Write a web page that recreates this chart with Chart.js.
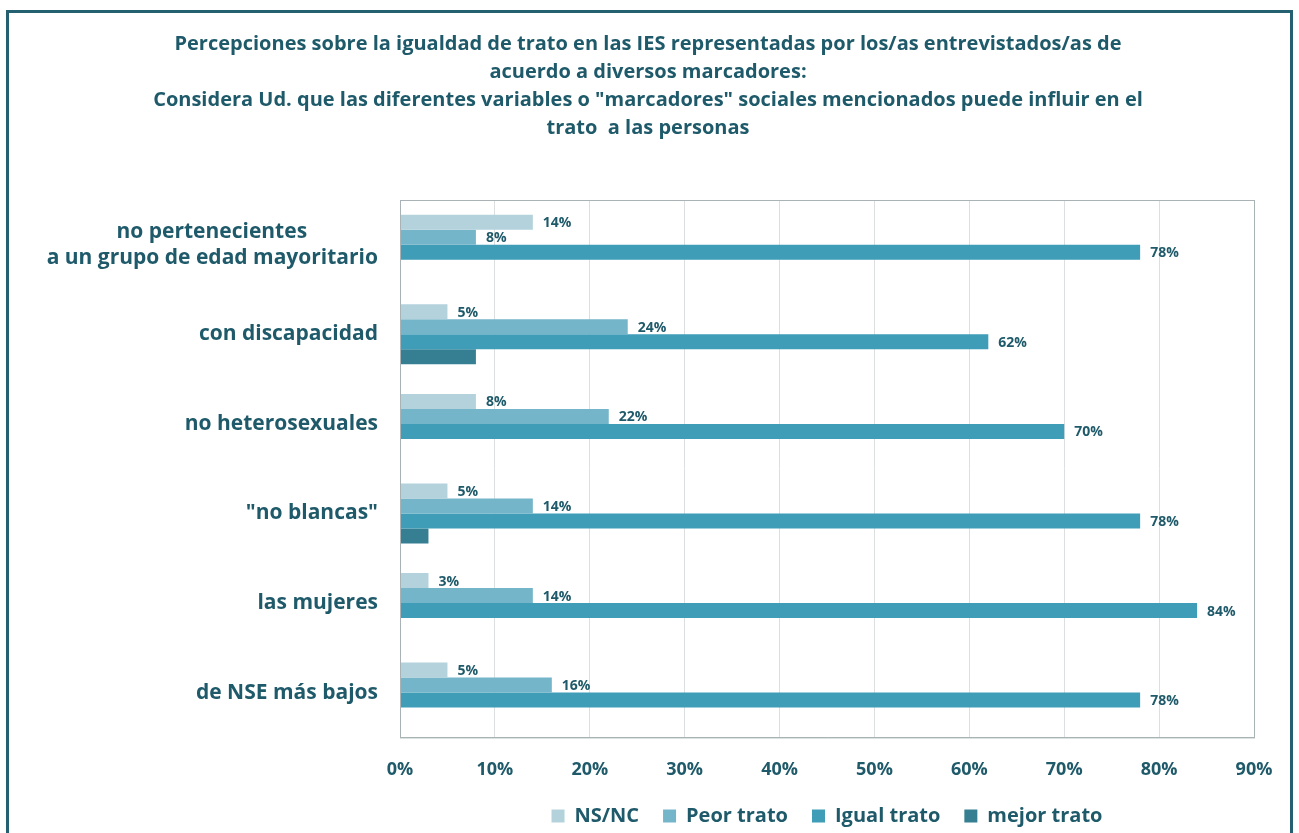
<!DOCTYPE html>
<html lang="es">
<head>
<meta charset="utf-8">
<script src="https://cdn.jsdelivr.net/npm/chart.js@4/dist/chart.umd.min.js"></script>
<style>
  html, body { margin: 0; padding: 0; background: #ffffff; }
  #wrap { position: relative; width: 1299px; height: 833px; overflow: hidden; }
  #frame {
    position: absolute; left: 6px; top: 10px; width: 1281px; height: 840px;
    border: 3px solid #24606f; box-sizing: content-box;
  }
  #chart { position: absolute; left: 0; top: 0; }
</style>
</head>
<body>
<div id="wrap">
  <div id="frame"></div>
  <canvas id="chart" width="1299" height="833"></canvas>
</div>
<script>
// --- Data ---
const categories = [
  ["no pertenecientes", "a un grupo de edad mayoritario"],
  "con discapacidad",
  "no heterosexuales",
  "\"no blancas\"",
  "las mujeres",
  "de NSE más bajos"
];

const nsnc = [14, 5, 8, 5, 3, 5];
const peorTrato = [8, 24, 22, 14, 14, 16];
const igualTrato = [78, 62, 70, 78, 84, 78];
const mejorTrato = [0, 8, 0, 3, 0, 0];

const xTicks = [0, 10, 20, 30, 40, 50, 60, 70, 80, 90];

const titleLines = [
  "Percepciones sobre la igualdad de trato en las IES representadas por los/as entrevistados/as de",
  "acuerdo a diversos marcadores:",
  "Considera Ud. que las diferentes variables o \"marcadores\" sociales mencionados puede influir en el",
  "trato  a las personas"
];

// --- Style ---
const TEXT = "#1f5a6a";
const FONT = "'Open Sans', Lato, sans-serif";
const NBSP = "\u00a0";
const CAT_FONT_SIZE = 21;

// multi-line category names: pad the shorter lines so the block reads centred
function centreLines(label, ctx) {
  if (!Array.isArray(label)) return label;
  const w = label.map((s) => ctx.measureText(s).width);
  const max = Math.max(...w);
  const sp = ctx.measureText(NBSP).width;
  return label.map((s, i) => s + NBSP.repeat(Math.round((max - w[i]) / 2 / sp)));
}

const measureCtx = document.createElement("canvas").getContext("2d");
measureCtx.font = "bold " + CAT_FONT_SIZE + "px " + FONT;

// value labels to the right of each bar (not for "mejor trato")
const barLabels = {
  id: "barLabels",
  afterDatasetsDraw(chart) {
    const ctx = chart.ctx;
    ctx.save();
    ctx.font = "bold 14px " + FONT;
    ctx.fillStyle = TEXT;
    ctx.textAlign = "left";
    ctx.textBaseline = "middle";
    chart.data.datasets.forEach((ds, i) => {
      if (!ds.showLabels) return;
      chart.getDatasetMeta(i).data.forEach((bar, j) => {
        ctx.fillText(ds.data[j] + "%", bar.x + 10, bar.y + 1);
      });
    });
    ctx.restore();
  }
};

// grey box round the plot area
const plotFrame = {
  id: "plotFrame",
  afterDraw(chart) {
    const a = chart.chartArea;
    const ctx = chart.ctx;
    ctx.save();
    ctx.strokeStyle = "#a9b3b6";
    ctx.lineWidth = 1;
    ctx.strokeRect(a.left + 0.5, a.top + 0.5, a.right - a.left, a.bottom - a.top);
    ctx.restore();
  }
};

new Chart(document.getElementById("chart"), {
  type: "bar",
  data: {
    labels: categories.map((c) => centreLines(c, measureCtx)),
    datasets: [
      { label: "NS/NC", data: nsnc, backgroundColor: "#b3d2dc", showLabels: true },
      { label: "Peor trato", data: peorTrato, backgroundColor: "#74b5ca", showLabels: true },
      { label: "Igual trato", data: igualTrato, backgroundColor: "#3f9db7", showLabels: true },
      { label: "mejor trato", data: mejorTrato, backgroundColor: "#367f93", showLabels: false }
    ]
  },
  options: {
    indexAxis: "y",
    responsive: false,
    animation: false,
    devicePixelRatio: 1,
    layout: { padding: { left: 42, right: 45, top: 0, bottom: -3 } },
    datasets: {
      bar: { barPercentage: 1, categoryPercentage: 0.67 }
    },
    scales: {
      x: {
        min: 0,
        max: 90,
        afterBuildTicks: (axis) => { axis.ticks = xTicks.map((v) => ({ value: v })); },
        afterFit: (axis) => { axis.height -= 21; },
        ticks: {
          callback: (v) => v + "%",
          color: TEXT,
          font: { family: FONT, size: 18, weight: "bold" },
          padding: 22
        },
        grid: { color: "#dcdfe0", drawTicks: false },
        border: { color: "#a9b3b6" }
      },
      y: {
        afterFit: (axis) => { axis.width = 358; },
        ticks: {
          color: TEXT,
          font: { family: FONT, size: CAT_FONT_SIZE, weight: "bold", lineHeight: 1.25 },
          padding: 22
        },
        grid: { display: false, drawTicks: false },
        border: { color: "#8e9a9e" }
      }
    },
    plugins: {
      title: {
        display: true,
        text: titleLines,
        color: TEXT,
        font: { family: FONT, size: 20, weight: "bold", lineHeight: 1.4 },
        padding: { top: 30, bottom: 58 }
      },
      legend: {
        position: "bottom",
        fullSize: false,
        labels: {
          color: TEXT,
          font: { family: FONT, size: 20, weight: "bold" },
          boxWidth: 13,
          boxHeight: 13,
          padding: 24
        }
      },
      tooltip: { enabled: false }
    }
  },
  plugins: [barLabels, plotFrame]
});
</script>
</body>
</html>
